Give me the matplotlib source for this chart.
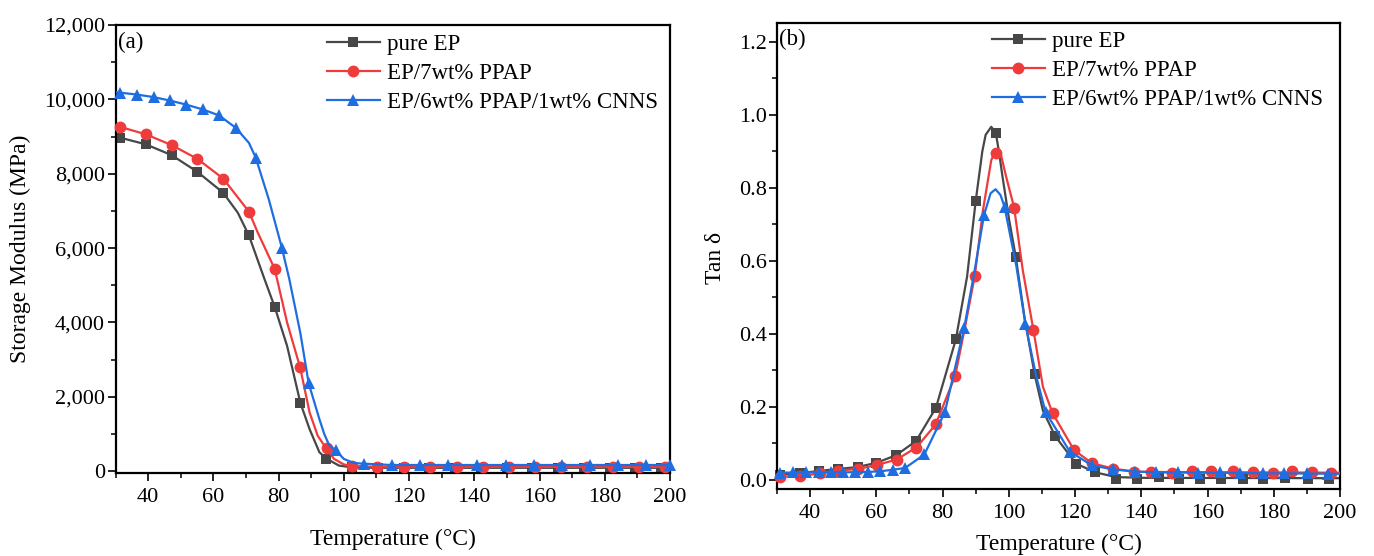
import matplotlib
matplotlib.use("Agg")
import matplotlib.pyplot as plt
from matplotlib.ticker import MultipleLocator, FuncFormatter

plt.rcParams['font.family'] = ['Liberation Serif', 'DejaVu Serif']
plt.rcParams['mathtext.fontset'] = 'stix'

# ---------------- data: (a) storage modulus ----------------
labels = ["pure EP", "EP/7wt% PPAP", "EP/6wt% PPAP/1wt% CNNS"]
colors = ["#474747", "#ef3b3b", "#1e6ee1"]
markers = ["s", "o", "^"]

a_ep_T = [31.4, 39.3, 47.2, 55.1, 63.0, 70.9, 78.8, 86.7, 94.6, 102.5, 110.4, 118.3,
          126.2, 134.1, 142.0, 149.9, 157.8, 165.7, 173.6, 181.5, 189.4, 197.3]
a_ep_E = [8970, 8790, 8500, 8050, 7490, 6340, 4420, 1830, 340, 100, 90, 90,
          90, 90, 90, 90, 90, 90, 90, 90, 90, 90]
a_pp_T = [31.4, 39.3, 47.2, 55.1, 63.0, 70.9, 78.8, 86.6, 94.7, 102.5, 110.3, 118.4,
          126.5, 134.6, 142.6, 150.6, 158.6, 166.6, 174.6, 182.6, 190.6, 198.6]
a_pp_E = [9260, 9060, 8770, 8400, 7870, 6980, 5440, 2790, 620, 140, 115, 115,
          115, 115, 115, 115, 115, 115, 115, 115, 115, 115]
a_cn_T = [31.4, 36.5, 41.7, 46.6, 51.6, 56.7, 61.7, 66.8, 73.0, 81.0, 89.2, 97.5,
          106.2, 114.7, 123.4, 132.0, 140.8, 149.6, 158.3, 166.8, 175.5, 184.1, 192.6, 200.0]
a_cn_E = [10180, 10130, 10060, 9970, 9860, 9730, 9570, 9240, 8430, 6010, 2370, 560,
          200, 165, 165, 170, 170, 170, 165, 165, 165, 165, 165, 165]

# curve (line) readings
a_ep_lT = [30, 31.4, 39.3, 47.2, 55.1, 63.0, 67.5, 70.9, 75.7, 78.8, 82.6, 86.7, 89.5,
           92.5, 94.6, 98.5, 102.5, 110, 200]
a_ep_lE = [9000, 8970, 8790, 8500, 8050, 7490, 6950, 6340, 5160, 4420, 3370, 1830, 1130,
           510, 340, 150, 100, 90, 90]
a_pp_lT = [30, 31.4, 39.3, 47.2, 55.1, 63.0, 70.9, 73.6, 78.8, 82.6, 86.6, 89.5, 92.0,
           94.7, 97.0, 100.0, 102.5, 110, 200]
a_pp_lE = [9290, 9260, 9060, 8770, 8400, 7870, 6980, 6420, 5440, 4000, 2790, 1580, 950,
           600, 330, 180, 140, 115, 115]
a_cn_lT = [30, 31.4, 36.5, 41.7, 46.6, 51.6, 56.7, 61.7, 66.8, 70.9, 73.0, 77.0, 81.0,
           83.3, 86.7, 89.2, 92.5, 94.0, 95.5, 97.5, 100.0, 103.0, 106.2, 114.7, 200]
a_cn_lE = [10200, 10180, 10130, 10060, 9970, 9860, 9730, 9570, 9240, 8830, 8430, 7310, 6010,
           5160, 3700, 2370, 1400, 1000, 700, 560, 330, 220, 200, 165, 165]

# ---------------- data: (b) tan delta ----------------
b_ep_T = [30.9, 36.9, 42.6, 48.4, 54.4, 60.0, 66.0, 72.1, 78.0, 84.0, 90.0, 96.05, 102.1,
          107.8, 114.0, 120.3, 126.1, 132.4, 138.8, 145.3, 151.4, 157.6, 164.0, 170.6,
          176.9, 183.4, 190.3, 196.7]
b_ep_V = [0.015, 0.018, 0.024, 0.030, 0.035, 0.047, 0.068, 0.107, 0.198, 0.385, 0.764, 0.951,
          0.611, 0.289, 0.120, 0.045, 0.021, 0.004, 0.004, 0.007, 0.003, 0.003, 0.004, 0.003,
          0.004, 0.006, 0.002, 0.003]
b_pp_T = [30.9, 36.9, 42.9, 48.4, 54.4, 60.1, 66.1, 72.1, 77.9, 83.8, 89.7, 96.05, 101.6,
          107.4, 113.2, 119.7, 125.1, 131.6, 137.8, 143.0, 149.2, 155.3, 161.1, 167.6,
          173.7, 179.9, 185.5, 191.6, 197.4]
b_pp_V = [0.009, 0.011, 0.018, 0.026, 0.030, 0.041, 0.056, 0.089, 0.152, 0.285, 0.558, 0.896,
          0.746, 0.412, 0.183, 0.082, 0.046, 0.031, 0.023, 0.022, 0.020, 0.025, 0.025, 0.025,
          0.022, 0.020, 0.024, 0.021, 0.019]
b_cn_T = [30.9, 34.9, 38.8, 42.6, 46.4, 49.9, 53.7, 57.4, 61.2, 64.9, 68.7, 74.5, 80.7,
          86.5, 92.5, 98.7, 105.0, 111.1, 118.4, 125.1, 131.6, 138.1, 144.3, 151.0, 157.2,
          163.7, 169.9, 176.7, 183.1, 189.9, 196.3]
b_cn_V = [0.020, 0.021, 0.021, 0.021, 0.021, 0.021, 0.022, 0.022, 0.024, 0.028, 0.033, 0.070,
          0.186, 0.415, 0.725, 0.748, 0.427, 0.186, 0.078, 0.040, 0.029, 0.023, 0.021, 0.022,
          0.020, 0.023, 0.020, 0.020, 0.019, 0.018, 0.016]

b_ep_lT = [30, 36, 42, 48, 54, 60, 66, 72, 78, 84, 87.4, 90, 92, 93, 94.7, 96.05, 97,
           98.1, 100.1, 102.1, 104.7, 107.8, 110.3, 114, 120.3, 126.1, 132.4, 140, 200]
b_ep_lV = [0.015, 0.018, 0.024, 0.030, 0.035, 0.047, 0.068, 0.107, 0.198, 0.385, 0.557,
           0.764, 0.900, 0.945, 0.967, 0.951, 0.900, 0.830, 0.712, 0.611, 0.447, 0.289,
           0.190, 0.120, 0.045, 0.021, 0.008, 0.006, 0.005]
b_pp_lT = [30, 36.9, 42.9, 48.4, 54.4, 60.1, 66.1, 72.1, 77.9, 83.8, 86.8, 89.7, 92.2,
           94.7, 96.2, 97.5, 99.2, 101.6, 104.2, 107.4, 110.3, 113.2, 119.7, 125.1, 131.6,
           137.8, 145, 200]
b_pp_lV = [0.009, 0.011, 0.018, 0.026, 0.030, 0.041, 0.056, 0.089, 0.152, 0.285, 0.420,
           0.558, 0.739, 0.876, 0.905, 0.895, 0.830, 0.746, 0.575, 0.412, 0.255, 0.183,
           0.082, 0.046, 0.031, 0.023, 0.022, 0.020]
b_cn_lT = [30, 40, 50, 57.4, 61.2, 64.9, 68.7, 74.5, 80.7, 86.5, 89.7, 92.5, 94.5, 96.0,
           97.5, 98.7, 102.3, 105.0, 108.3, 111.1, 118.4, 125.1, 131.6, 138.1, 145, 200]
b_cn_lV = [0.020, 0.021, 0.021, 0.022, 0.024, 0.028, 0.033, 0.070, 0.186, 0.415, 0.575,
           0.725, 0.785, 0.796, 0.780, 0.748, 0.584, 0.427, 0.283, 0.186, 0.078, 0.040,
           0.029, 0.023, 0.021, 0.017]

FS_TICK = 16
FS_LAB = 17
FS_LEG = 16.5

fig = plt.figure(figsize=(13.74, 5.56), dpi=100)
W, H = 1374, 556
axa = fig.add_axes([115.5 / W, 1 - 473 / H, (670 - 115.5) / W, (473 - 25) / H])
axb = fig.add_axes([777 / W, 1 - 489 / H, (1340 - 777) / W, (489 - 22.7) / H])


def style(ax):
    for s in ax.spines.values():
        s.set_linewidth(1.6)
    ax.tick_params(which='major', direction='out', length=6, width=1.2,
                   labelsize=FS_TICK, top=False, right=False)
    ax.tick_params(which='minor', direction='out', length=3.5, width=1.1,
                   top=False, right=False)
    ax.tick_params(axis='x', which='major', pad=5)
    ax.tick_params(axis='y', which='major', pad=1.5)


a_sets = [(a_ep_lT, a_ep_lE, a_ep_T, a_ep_E),
          (a_pp_lT, a_pp_lE, a_pp_T, a_pp_E),
          (a_cn_lT, a_cn_lE, a_cn_T, a_cn_E)]
b_sets = [(b_ep_lT, b_ep_lV, b_ep_T, b_ep_V),
          (b_pp_lT, b_pp_lV, b_pp_T, b_pp_V),
          (b_cn_lT, b_cn_lV, b_cn_T, b_cn_V)]
msz = [7.5, 8.5, 9]

for ax, sets in ((axa, a_sets), (axb, b_sets)):
    for i, (lT, lV, mT, mV) in enumerate(sets):
        ax.plot(lT, lV, color=colors[i], lw=1.6, zorder=2 + i, clip_on=True)
        ax.plot(mT, mV, linestyle='none', marker=markers[i], ms=msz[i],
                color=colors[i], mec=colors[i], mew=0, zorder=2 + i, clip_on=False)
        ax.plot([], [], color=colors[i], lw=1.6, marker=markers[i], ms=msz[i],
                mew=0, label=labels[i])
    style(ax)
    ax.set_xlim(30, 200)
    ax.xaxis.set_major_locator(MultipleLocator(20))
    ax.xaxis.set_minor_locator(MultipleLocator(10))

# panel a
axa.set_ylim(-50, 12000)
axa.yaxis.set_major_locator(MultipleLocator(2000))
axa.yaxis.set_minor_locator(MultipleLocator(1000))
axa.yaxis.set_major_formatter(FuncFormatter(lambda v, p: f"{v:,.0f}"))
axa.set_xlabel("Temperature (°C)", fontsize=FS_LAB, va='center')
axa.xaxis.set_label_coords(0.5, (473 - 539.5) / 448)
axa.set_ylabel("Storage Modulus (MPa)", fontsize=FS_LAB, va='center')
axa.yaxis.set_label_coords((20 - 115.5) / 554.5, 0.5)
axa.text(0.005, (473 - 42) / 448, "(a)", transform=axa.transAxes, fontsize=FS_LEG,
         va='center', ha='left')
axa.legend(loc='upper left', bbox_to_anchor=((327 - 115.5) / 554.5, (473 - 34) / 448),
           frameon=False, fontsize=FS_LEG, borderpad=0, borderaxespad=0,
           handlelength=2.3, handletextpad=0.3, labelspacing=0.34)

# panel b
axb.set_ylim(-0.0246, 1.252)
axb.yaxis.set_major_locator(MultipleLocator(0.2))
axb.yaxis.set_minor_locator(MultipleLocator(0.1))
axb.yaxis.set_major_formatter(FuncFormatter(lambda v, p: f"{v:.1f}"))
axb.set_xlabel("Temperature (°C)", fontsize=FS_LAB, va='center')
axb.xaxis.set_label_coords(0.5, (489 - 544) / 466.3)
axb.set_ylabel("Tan δ", fontsize=FS_LAB, va='center')
axb.yaxis.set_label_coords((715 - 777) / 563, 0.495)
axb.text(0.004, (489 - 39) / 466.3, "(b)", transform=axb.transAxes, fontsize=FS_LEG,
         va='center', ha='left')
axb.legend(loc='upper left', bbox_to_anchor=((992 - 777) / 563, (489 - 31) / 466.3),
           frameon=False, fontsize=FS_LEG, borderpad=0, borderaxespad=0,
           handlelength=2.3, handletextpad=0.3, labelspacing=0.34)

fig.savefig("out.png", dpi=100)
